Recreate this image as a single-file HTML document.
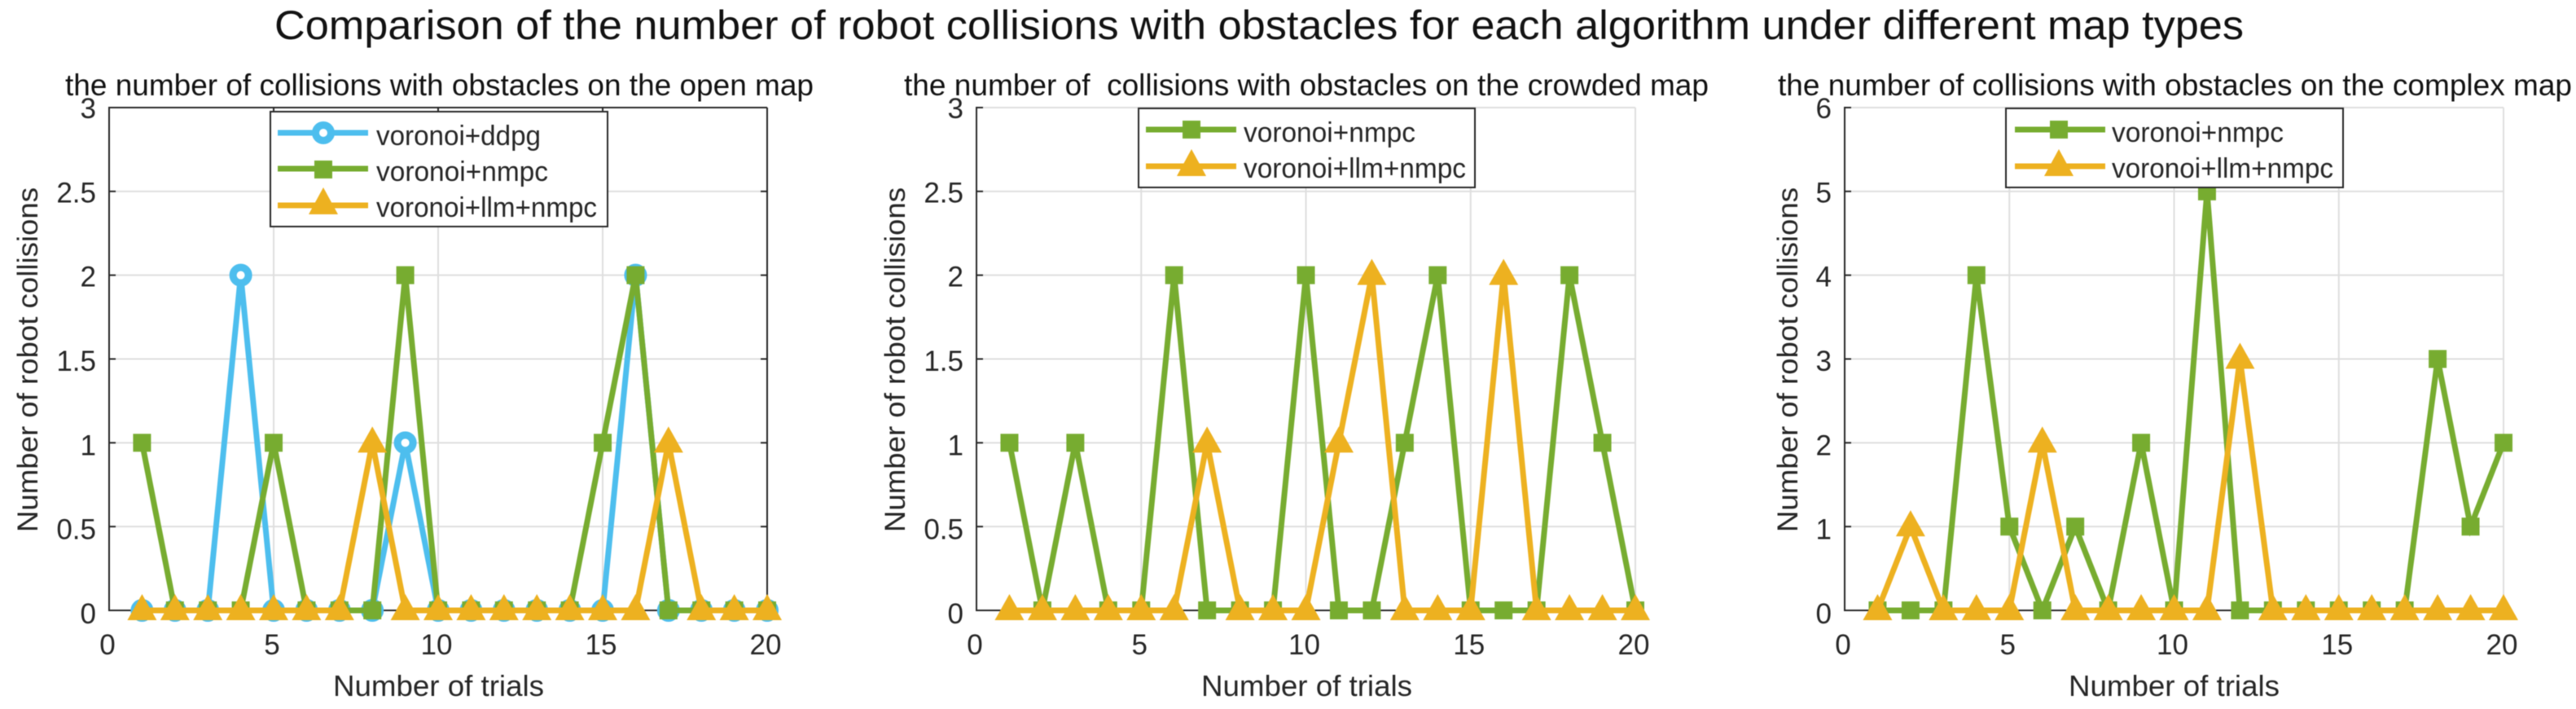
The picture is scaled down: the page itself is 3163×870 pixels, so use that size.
<!DOCTYPE html>
<html lang="en">
<head>
<meta charset="utf-8">
<title>Robot collisions comparison</title>
<style>
html,body{margin:0;padding:0;background:#fff;width:3163px;height:870px;overflow:hidden}
svg{display:block;filter:blur(0.6px)}
text{font-family:"Liberation Sans",sans-serif;fill:#262626;white-space:pre}
</style>
</head>
<body>
<svg id="figure" xmlns="http://www.w3.org/2000/svg" width="3163" height="870" viewBox="0 0 3163 870">
<rect width="3163" height="870" fill="#fff"/>
<text x="337" y="48" font-size="50" textLength="2418" lengthAdjust="spacingAndGlyphs" style="fill:#111">Comparison of the number of robot collisions with obstacles for each algorithm under different map types</text>

<g id="plot-open"></g>
<g id="plot-crowded"></g>
<g id="plot-complex"></g>

<text x="80" y="117" font-size="37" textLength="919" lengthAdjust="spacingAndGlyphs" style="fill:#111">the number of collisions with obstacles on the open map</text>
<text x="1110" y="117" font-size="37" textLength="988" lengthAdjust="spacingAndGlyphs" style="fill:#111">the number of  collisions with obstacles on the crowded map</text>
<text x="2183" y="117" font-size="37" textLength="975" lengthAdjust="spacingAndGlyphs" style="fill:#111">the number of collisions with obstacles on the complex map</text>

<text x="409" y="854" font-size="36" textLength="259" lengthAdjust="spacingAndGlyphs">Number of trials</text>
<text x="1475" y="854" font-size="36" textLength="259" lengthAdjust="spacingAndGlyphs">Number of trials</text>
<text x="2540" y="854" font-size="36" textLength="259" lengthAdjust="spacingAndGlyphs">Number of trials</text>

<text transform="translate(46,653) rotate(-90)" font-size="35" textLength="423" lengthAdjust="spacingAndGlyphs">Number of robot collisions</text>
<text transform="translate(1111,653) rotate(-90)" font-size="35" textLength="423" lengthAdjust="spacingAndGlyphs">Number of robot collisions</text>
<text transform="translate(2207,653) rotate(-90)" font-size="35" textLength="423" lengthAdjust="spacingAndGlyphs">Number of robot collisions</text>

<g>
  <rect x="332" y="137" width="414" height="141" fill="#fff" stroke="#262626" stroke-width="2"/>
  <g>
    <line x1="341" x2="452" y1="163" y2="163" stroke="#4DBEEE" stroke-width="7"/>
    <circle cx="397" cy="163" r="9.5" fill="#fff" stroke="#4DBEEE" stroke-width="9"/>
    <text x="462" y="178" font-size="34" textLength="202" lengthAdjust="spacingAndGlyphs">voronoi+ddpg</text>
  </g>
  <g>
    <line x1="341" x2="452" y1="207" y2="207" stroke="#77AC30" stroke-width="7"/>
    <rect x="386" y="197" width="22" height="22" fill="#77AC30"/>
    <text x="462" y="222" font-size="34" textLength="211" lengthAdjust="spacingAndGlyphs">voronoi+nmpc</text>
  </g>
  <g>
    <line x1="341" x2="452" y1="252" y2="252" stroke="#EDB120" stroke-width="7"/>
    <polygon points="397,230 415,263 379,263" fill="#EDB120"/>
    <text x="462" y="266" font-size="34" textLength="271" lengthAdjust="spacingAndGlyphs">voronoi+llm+nmpc</text>
  </g>
</g>

<g>
  <rect x="1398" y="133" width="413" height="97" fill="#fff" stroke="#262626" stroke-width="2"/>
  <g>
    <line x1="1407" x2="1518" y1="159" y2="159" stroke="#77AC30" stroke-width="7"/>
    <rect x="1452" y="148" width="22" height="22" fill="#77AC30"/>
    <text x="1527" y="174" font-size="34" textLength="211" lengthAdjust="spacingAndGlyphs">voronoi+nmpc</text>
  </g>
  <g>
    <line x1="1407" x2="1518" y1="204" y2="204" stroke="#EDB120" stroke-width="7"/>
    <polygon points="1463,183 1481,216 1445,216" fill="#EDB120"/>
    <text x="1527" y="218" font-size="34" textLength="273" lengthAdjust="spacingAndGlyphs">voronoi+llm+nmpc</text>
  </g>
</g>

<g>
  <rect x="2463" y="133" width="414" height="97" fill="#fff" stroke="#262626" stroke-width="2"/>
  <g>
    <line x1="2474" x2="2585" y1="159" y2="159" stroke="#77AC30" stroke-width="7"/>
    <rect x="2517" y="148" width="22" height="22" fill="#77AC30"/>
    <text x="2593" y="174" font-size="34" textLength="211" lengthAdjust="spacingAndGlyphs">voronoi+nmpc</text>
  </g>
  <g>
    <line x1="2474" x2="2585" y1="204" y2="204" stroke="#EDB120" stroke-width="7"/>
    <polygon points="2528,183 2546,216 2510,216" fill="#EDB120"/>
    <text x="2593" y="218" font-size="34" textLength="272" lengthAdjust="spacingAndGlyphs">voronoi+llm+nmpc</text>
  </g>
</g>
</svg>

<script>
var trials = [1,2,3,4,5,6,7,8,9,10,11,12,13,14,15,16,17,18,19,20];
var xTickValues = [0,5,10,15,20];
var yTicksThree = [0,0.5,1,1.5,2,2.5,3];
var yTicksSix = [0,1,2,3,4,5,6];

var openDdpg = [0,0,0,2,0,0,0,0,1,0,0,0,0,0,0,2,0,0,0,0];
var openNmpc = [1,0,0,0,1,0,0,0,2,0,0,0,0,0,1,2,0,0,0,0];
var openLlm  = [0,0,0,0,0,0,0,1,0,0,0,0,0,0,0,0,1,0,0,0];

var crowdedNmpc = [1,0,1,0,0,2,0,0,0,2,0,0,1,2,0,0,0,2,1,0];
var crowdedLlm  = [0,0,0,0,0,0,1,0,0,0,1,2,0,0,0,2,0,0,0,0];

var complexNmpc = [0,0,0,4,1,0,1,0,2,0,5,0,0,0,0,0,0,3,1,2];
var complexLlm  = [0,1,0,0,0,2,0,0,0,0,0,3,0,0,0,0,0,0,0,0];

var NS = 'http://www.w3.org/2000/svg';
var BLUE = '#4DBEEE', GREEN = '#77AC30', ORANGE = '#EDB120';
var TOP = 132, BOTTOM = 749;

function mk(parent, tag, attrs) {
  var el = document.createElementNS(NS, tag);
  for (var k in attrs) { el.setAttribute(k, attrs[k]); }
  parent.appendChild(el);
  return el;
}

function drawSeries(root, values, color, shape, sx, sy) {
  var g = mk(root, 'g', {});
  
  
  var pts = trials.map(function (t, i) { return sx(t) + ',' + sy(values[i]); }).join(' ');
  var line = mk(g, 'polyline', { points: pts, fill: 'none', stroke: color, 'stroke-width': 7, 'stroke-linejoin': 'miter' });
  
  
  trials.forEach(function (t, i) {
    var x = sx(t), y = sy(values[i]), m;
    if (shape === 'circle') {
      m = mk(g, 'circle', { cx: x, cy: y, r: 9.5, fill: '#fff', stroke: color, 'stroke-width': 9 });
    } else if (shape === 'square') {
      m = mk(g, 'rect', { x: x - 11, y: y - 11, width: 22, height: 22, fill: color });
    } else {
      m = mk(g, 'polygon', { points: x + ',' + (y - 20) + ' ' + (x + 18) + ',' + (y + 12) + ' ' + (x - 18) + ',' + (y + 12), fill: color });
    }
    
    
  });
}

function drawChart(id, left, right, yMax, yTicks, boxed, series) {
  var root = document.getElementById(id);
  var sx = function (v) { return left + (right - left) * v / 20; };
  var sy = function (v) { return BOTTOM - (BOTTOM - TOP) * v / yMax; };

  yTicks.forEach(function (v) {
    var gl = mk(root, 'line', { x1: left, x2: right, y1: sy(v), y2: sy(v), stroke: '#dedede', 'stroke-width': 2 });
    
    
    var tk = mk(root, 'line', { x1: left, x2: left + 8, y1: sy(v), y2: sy(v), stroke: '#262626', 'stroke-width': 2 });
    
    
    if (boxed) {
      var tr = mk(root, 'line', { x1: right - 8, x2: right, y1: sy(v), y2: sy(v), stroke: '#262626', 'stroke-width': 2 });
      
      
    }
    var lb = mk(root, 'text', { x: left - 16, y: sy(v) + 16 - 3 * v / yMax, 'text-anchor': 'end', 'font-size': 35 });
    
    
    lb.textContent = String(v);
  });

  xTickValues.forEach(function (v) {
    var gl = mk(root, 'line', { x1: sx(v), x2: sx(v), y1: TOP, y2: BOTTOM, stroke: '#dedede', 'stroke-width': 2 });
    
    
    if (boxed) {
      var tt = mk(root, 'line', { x1: sx(v), x2: sx(v), y1: TOP, y2: TOP + 6, stroke: '#262626', 'stroke-width': 2 });
      
      
    }
    var lb = mk(root, 'text', { x: sx(v) - 2, y: 803, 'text-anchor': 'middle', 'font-size': 35 });
    
    
    lb.textContent = String(v);
  });

  var axisY = mk(root, 'line', { x1: left, x2: left, y1: TOP - 1, y2: BOTTOM + 1, stroke: '#262626', 'stroke-width': 2 });
  
  
  var axisX = mk(root, 'line', { x1: left, x2: right, y1: BOTTOM, y2: BOTTOM, stroke: '#262626', 'stroke-width': 2 });
  
  
  if (boxed) {
    var boxTop = mk(root, 'line', { x1: left, x2: right, y1: TOP, y2: TOP, stroke: '#262626', 'stroke-width': 2 });
    
    
    var boxRight = mk(root, 'line', { x1: right, x2: right, y1: TOP, y2: BOTTOM, stroke: '#262626', 'stroke-width': 2 });
    
    
  }

  series.forEach(function (s) { drawSeries(root, s.values, s.color, s.shape, sx, sy); });
}

drawChart('plot-open', 134, 942, 3, yTicksThree, true, [
  { values: openDdpg, color: BLUE, shape: 'circle' },
  { values: openNmpc, color: GREEN, shape: 'square' },
  { values: openLlm, color: ORANGE, shape: 'triangle' }
]);
drawChart('plot-crowded', 1199, 2008, 3, yTicksThree, false, [
  { values: crowdedNmpc, color: GREEN, shape: 'square' },
  { values: crowdedLlm, color: ORANGE, shape: 'triangle' }
]);
drawChart('plot-complex', 2265, 3074, 6, yTicksSix, false, [
  { values: complexNmpc, color: GREEN, shape: 'square' },
  { values: complexLlm, color: ORANGE, shape: 'triangle' }
]);
</script>
</body>
</html>
